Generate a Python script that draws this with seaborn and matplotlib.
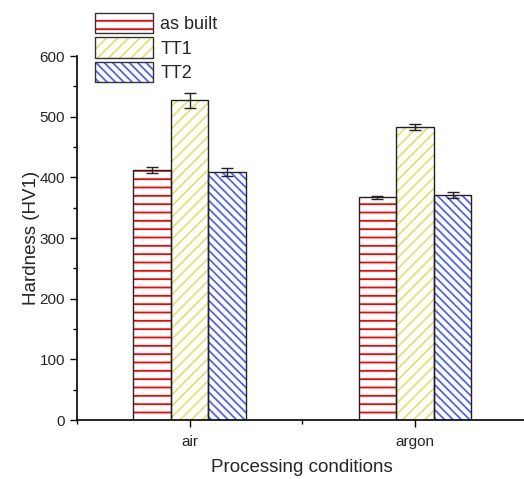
import numpy as np
import pandas as pd
import matplotlib
matplotlib.use("Agg")
import matplotlib.pyplot as plt
import seaborn as sns
from matplotlib.patches import Rectangle, Patch
from matplotlib.legend_handler import HandlerTuple
from matplotlib.ticker import MultipleLocator

# Data
conditions = ["air", "argon"]
treatments = ["as built", "TT1", "TT2"]
hardness = {
    "as built": [412, 367],
    "TT1": [527, 483],
    "TT2": [409, 371],
}
errors = {
    "as built": [5, 2],
    "TT1": [12, 5],
    "TT2": [6, 5],
}

hatch_colors = ["#ff0000", "#e8e070", "#4f63ff"]
hatches = ["--", "///", "\\\\\\\\"]

rows = []
for t in treatments:
    for c, v, e in zip(conditions, hardness[t], errors[t]):
        rows.append({"condition": c, "treatment": t, "hardness": v, "err": e})
df = pd.DataFrame(rows)

sns.set_style("ticks")
plt.rcParams["font.family"] = ["Liberation Sans", "DejaVu Sans"]
plt.rcParams["hatch.linewidth"] = 1.3

fig = plt.figure(figsize=(5.24, 4.79), dpi=100)
ax = fig.add_axes([0.147, 0.123, 0.86, 0.76])

sns.barplot(data=df, x="condition", y="hardness", hue="treatment",
            hue_order=treatments, order=conditions, errorbar=None,
            width=0.5, ax=ax, legend=False)

# restyle bars: colored hatch with black outline, then error bars
for i, t in enumerate(treatments):
    cont = ax.containers[i]
    for j, bar in enumerate(cont):
        bar.set_facecolor("white")
        bar.set_edgecolor(hatch_colors[i])
        bar.set_hatch(hatches[i])
        bar.set_linewidth(0)
        x0, w, h = bar.get_x(), bar.get_width(), bar.get_height()
        ax.add_patch(Rectangle((x0, 0), w, h, fill=False, edgecolor="#222222",
                               linewidth=1.0, zorder=3))
        ax.errorbar(x0 + w / 2, h, yerr=errors[t][j], fmt="none",
                    ecolor="#222222", elinewidth=1.0, capsize=4,
                    capthick=1.0, zorder=4)

ax.set_xlim(-0.5, 1.5)
ax.set_ylim(0, 600)
ax.yaxis.set_major_locator(MultipleLocator(100))
ax.yaxis.set_minor_locator(MultipleLocator(50))
ax.xaxis.set_minor_locator(MultipleLocator(0.5))
ax.set_xticks([0, 1])
ax.set_xticklabels(conditions)
ax.tick_params(axis="both", which="major", direction="out", length=5,
               width=1.0, labelsize=11, color="black")
ax.tick_params(axis="x", which="major", pad=6)
ax.tick_params(axis="both", which="minor", direction="out", length=3,
               width=1.0, color="black")
for s in ["top", "right"]:
    ax.spines[s].set_visible(False)
for s in ["left", "bottom"]:
    ax.spines[s].set_linewidth(1.2)
    ax.spines[s].set_color("black")

ax.set_xlabel("Processing conditions", fontsize=13.5, labelpad=7)
ax.set_ylabel("Hardness (HV1)", fontsize=13.5, labelpad=0)

# legend: hatch patch + dark outline overlaid
handles = []
for i in range(3):
    fill = Patch(facecolor="white", edgecolor=hatch_colors[i],
                 hatch=hatches[i], linewidth=0)
    outline = Patch(facecolor="none", edgecolor="#333333", linewidth=1.0)
    handles.append((fill, outline))
fig.legend(handles, treatments, loc="upper left",
           bbox_to_anchor=(0.158, 1.0), frameon=False, fontsize=13,
           handlelength=3.2, handleheight=1.4, handletextpad=0.4,
           labelspacing=0.2, borderaxespad=0.3,
           handler_map={tuple: HandlerTuple(ndivide=1, pad=0)})

fig.savefig("out.png", dpi=100)
